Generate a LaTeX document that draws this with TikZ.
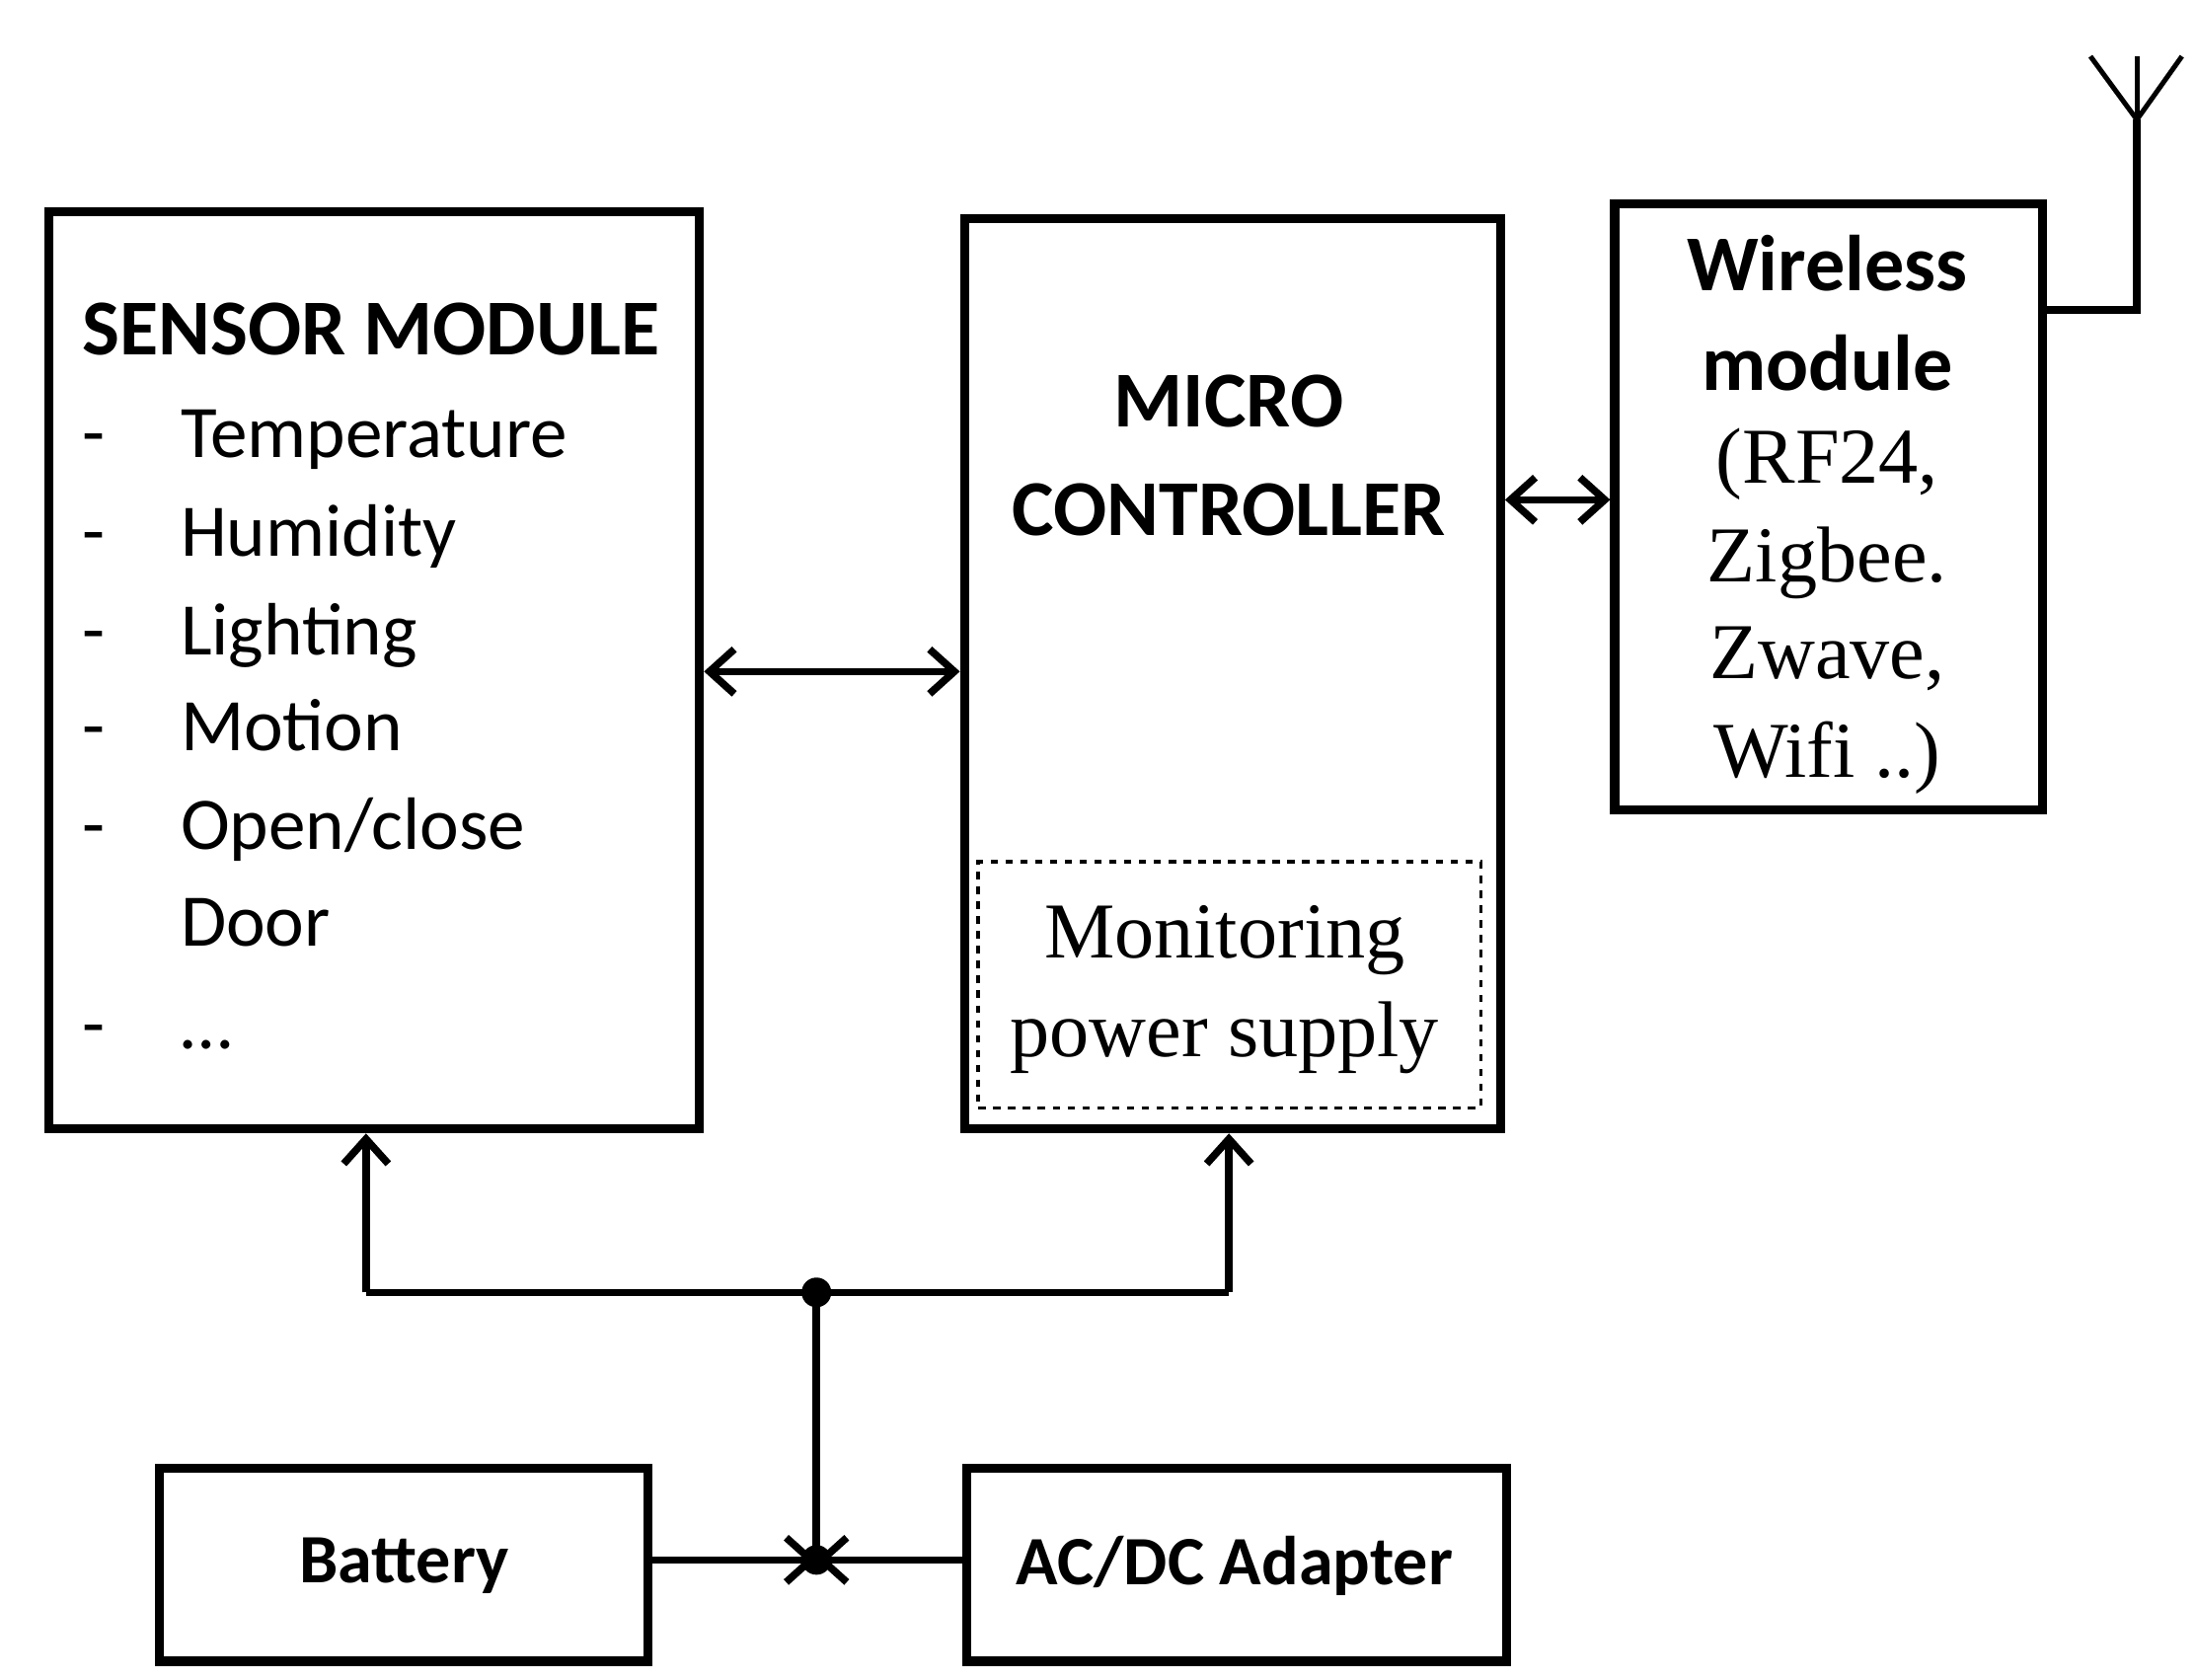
\documentclass[tikz,border=0pt]{standalone}
\usepackage{fontspec}
\setmainfont{Carlito}
\newfontfamily\serifx{Liberation Serif}
\usetikzlibrary{arrows.meta}
\begin{document}
\begin{tikzpicture}[x=0.02cm,y=-0.02cm,
  box/.style={draw,line width=3.6pt,inner sep=0pt},
  conn/.style={line width=3pt},
  arr/.style={conn,-{Straight Barb[length=10pt,width=18pt,line width=3pt]}},
  darr/.style={conn,{Straight Barb[length=10pt,width=18pt,line width=3pt]}-{Straight Barb[length=10pt,width=18pt,line width=3pt]}},
  hd/.style={font=\fontsize{32}{36}\selectfont\bfseries},
  it/.style={font=\fontsize{30}{34}\selectfont,anchor=base west,inner sep=0pt},
  sf/.style={font=\serifx\fontsize{32}{36}\selectfont}]
\useasboundingbox (0,0) rectangle (1560,1193);
\node[box,minimum width=9.24cm,minimum height=13.04cm] (sensor) at (266,476) {};
\node[box,minimum width=7.62cm,minimum height=12.94cm] (micro) at (875.5,478.5) {};
\node[draw,dashed,line width=1.5pt,minimum width=7.14cm,minimum height=3.5cm] (mon) at (873.5,699.5) {};
\node[box,minimum width=6.08cm,minimum height=8.6cm] (wl) at (1299,360) {};
\node[box,minimum width=6.94cm,minimum height=2.74cm] (bat) at (286.5,1111.5) {};
\node[box,minimum width=7.66cm,minimum height=2.74cm] (ac) at (878.5,1111.5) {};
% texts
\node[hd,anchor=base west,inner sep=0pt] (st) at (58,252) {SENSOR MODULE};
\foreach \y/\t [count=\i] in {325/{Temperature},395/{Humidity},465/{Lighting},533/{Motion},603/{Open/close},672/{Door},745/{\dots}}{
  \node[it] (s\i) at (128,\y) {\t};}
\foreach \y [count=\i] in {325,395,465,533,603,745}{
  \node[it] (d\i) at (58,\y) {-};}
\node[hd] (m1) at (873,285) {MICRO};
\node[hd] (m2) at (873,362) {CONTROLLER};
\node[hd] (w1) at (1298,187) {Wireless};
\node[hd] (w2) at (1298,258) {module};
\node[sf] (w3) at (1298,330) {(RF24,};
\node[sf] (w4) at (1298,400) {Zigbee.};
\node[sf] (w5) at (1298,468) {Zwave,};
\node[sf] (w6) at (1298,538) {Wifi ..)};
\node[sf] (p1) at (870,668) {Monitoring};
\node[sf] (p2) at (870,737) {power supply};
\node[hd,font=\fontsize{28}{32}\selectfont\bfseries] (bt) at (287,1112) {Battery};
\node[hd,font=\fontsize{28}{32}\selectfont\bfseries] (at) at (877,1112) {AC/DC Adapter};
% connectors
\draw[darr] (sensor.east |- 0,477) -- (micro.west |- 0,477);
\draw[darr] (micro.east |- 0,355) -- (wl.west |- 0,355);
\coordinate (j) at (580,918);
\coordinate (j2) at (580,1108);
\coordinate (s1b) at (260,918);
\coordinate (m1b) at (873,918);
\draw[conn] (s1b) -- (m1b);
\draw[arr] (s1b) -- (sensor.south -| s1b);
\draw[arr] (m1b) -- (micro.south -| m1b);
\draw[conn] (j) -- (j2);
\draw[arr] (bat.east |- j2) -- (j2);
\draw[arr] (ac.west |- j2) -- (j2);
\fill (j) circle (6pt);
\fill (j2) circle (6pt);
% antenna
\coordinate (a0) at (1518,220);
\coordinate (a1) at (1518,85);
\draw[conn] (wl.east |- a0) -- (a0) -- (a1);
\draw[line width=2pt] (1485,40) -- (a1) -- (1550,40);
\draw[line width=2pt] (1518,40) -- (a1);
\end{tikzpicture}
\end{document}
